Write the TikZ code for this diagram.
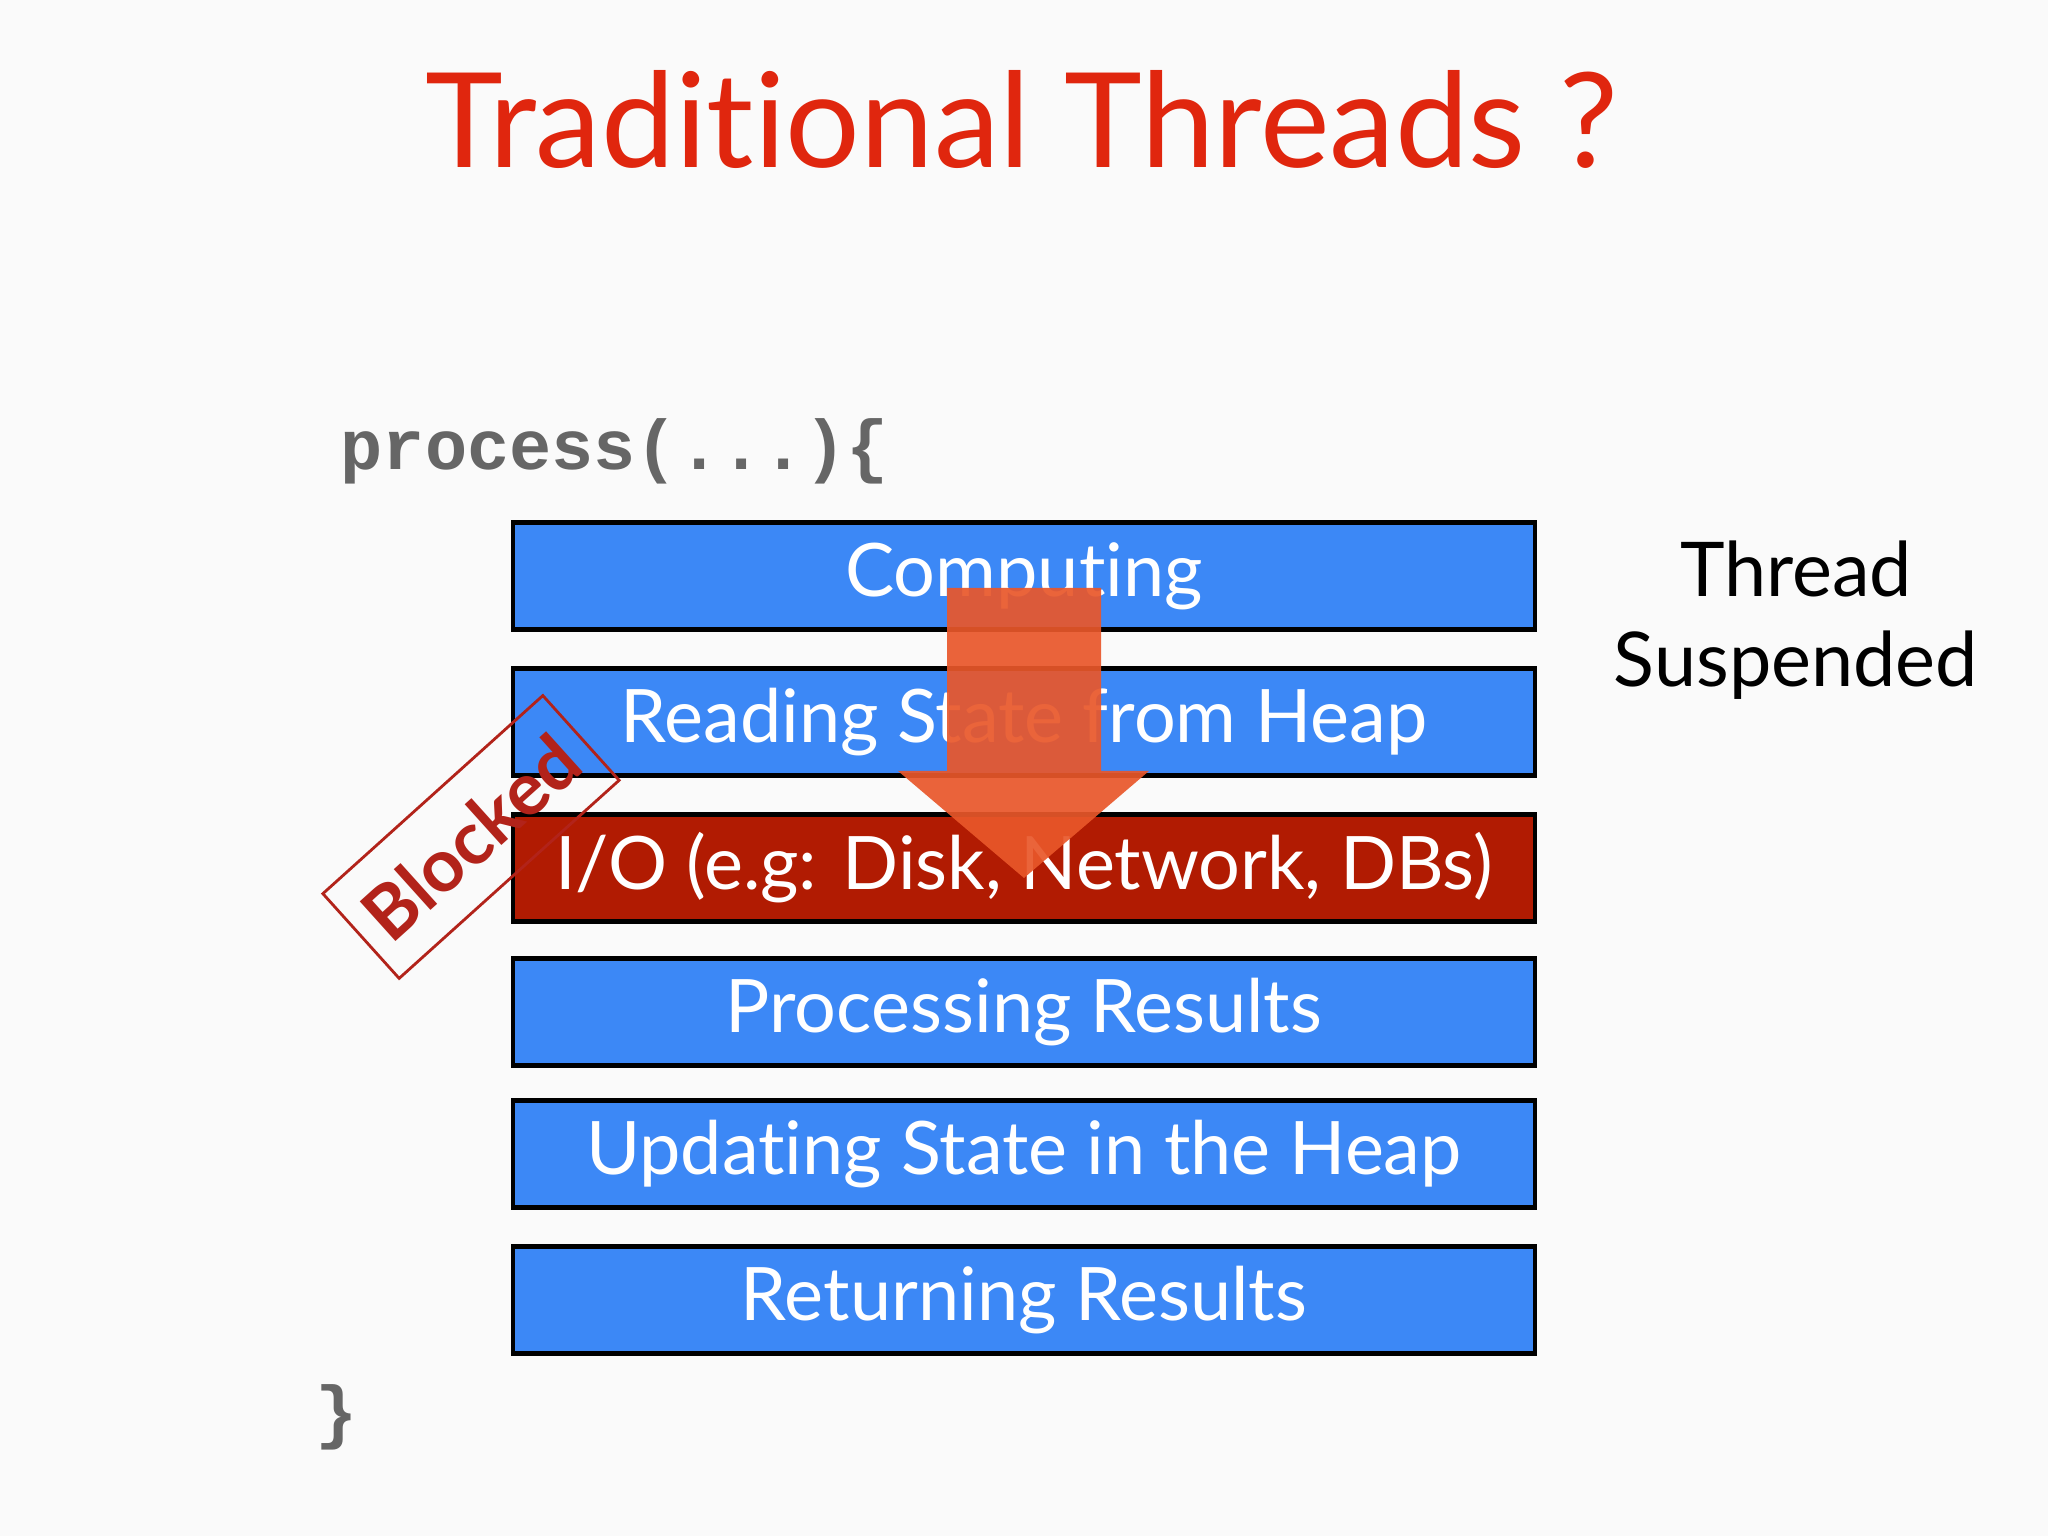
\documentclass[tikz,border=0pt]{standalone}
\usepackage{fontspec}
\setmainfont{Lato}[Ligatures=NoCommon]
\setmonofont{Liberation Mono}
\usetikzlibrary{positioning}
\definecolor{titlered}{HTML}{E0260E}
\definecolor{stepblue}{HTML}{3C88F6}
\definecolor{iored}{HTML}{B11B02}
\definecolor{stampred}{HTML}{B2231A}
\definecolor{arroworange}{HTML}{E9572A}
\definecolor{codegray}{HTML}{666666}

\tikzset{
  stepbox/.style={draw=black,line width=1.3pt,fill=stepblue,text=white,
    minimum width=10.22cm,minimum height=1.07cm,inner sep=0pt,
    font=\fontsize{21}{25}\selectfont},
  iobox/.style={stepbox,fill=iored},
  codetext/.style={text=codegray,font=\ttfamily\bfseries\fontsize{20}{24}\selectfont,inner sep=0pt}
}

\begin{document}
\begin{tikzpicture}
        \useasboundingbox[fill=white!98!black] (0,0) rectangle (20.48,15.36);
        \node[anchor=base,text=titlered,font=\fontsize{37.5}{45}\selectfont,inner sep=0pt] (title) at (10.22,13.68) {Traditional Threads ?};
        \node[codetext,anchor=base west] (head) at (3.40,10.66) {process(...)\{};
        \node[codetext,anchor=west] (tail) at (3.15,1.19) {\}};
        \node[stepbox] (compute) at (10.24,9.60) {Computing};
        \node[stepbox] (read) at (10.24,8.14) {Reading State from Heap};
        \node[iobox] (io) at (10.24,6.68) {I/O (e.g: Disk, Network, DBs)};
        \node[stepbox] (results) at (10.24,5.24) {Processing Results};
        \node[stepbox] (update) at (10.24,3.82) {Updating State in the Heap};
        \node[stepbox] (return) at (10.24,2.36) {Returning Results};
        \node[align=center,font=\fontsize{21.5}{25.5}\selectfont] (suspended) at (17.96,9.16) {Thread\\Suspended};
        % blocked stamp
        \node[draw=stampred,line width=0.8pt,text=stampred,rotate=42,
              minimum width=2.96cm,minimum height=1.14cm,
              font=\bfseries\fontsize{21}{25}\selectfont] (blocked) at (4.71,6.99) {Blocked};
        % big arrow
        \fill[arroworange,opacity=0.92] (9.47,9.48) -- (11.01,9.48) -- (11.01,7.65) -- (11.49,7.65)
              -- (10.24,6.58) -- (8.98,7.65) -- (9.47,7.65) -- cycle;
\end{tikzpicture}
\end{document}
